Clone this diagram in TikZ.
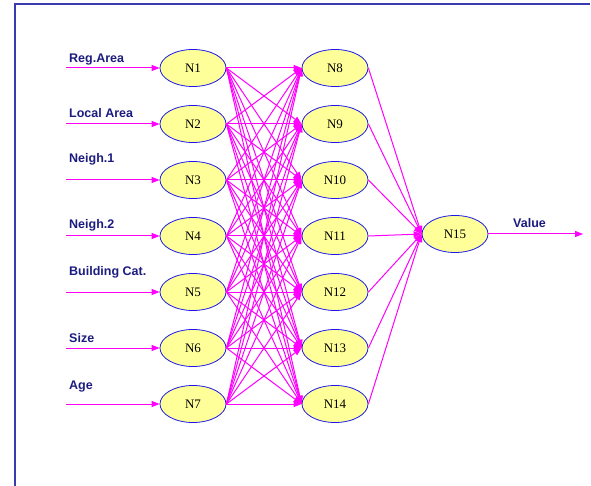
\documentclass[tikz,border=0pt]{standalone}
\usepackage{fontspec}
\setmainfont{Liberation Serif}
\newfontfamily\lblfont{Liberation Sans}
\usetikzlibrary{shapes.geometric,arrows.meta}
\definecolor{mag}{HTML}{FF00FF}
\definecolor{navy}{HTML}{1C1C80}
\definecolor{frame}{HTML}{3A3AB0}
\definecolor{fillY}{HTML}{FFFF99}
\definecolor{edgeB}{HTML}{1A1AE6}
\tikzset{
  neuron/.style={ellipse, draw=edgeB, line width=0.8pt, fill=fillY, minimum width=66pt, minimum height=37pt, inner sep=0pt, font=\fontsize{13}{15}\selectfont},
  conn/.style={draw=mag, line width=1pt, -{Triangle[length=8pt,width=6pt]}},
  lbl/.style={anchor=base west, text=navy, inner sep=0pt, font=\lblfont\bfseries\fontsize{12.5}{14}\selectfont}
}
\begin{document}
\begin{tikzpicture}[x=1pt,y=-1pt]
\useasboundingbox (0,0) rectangle (591,486);
\draw[frame, line width=1.2pt] (15,486) -- (15,4) -- (590,4);
% input layer
\foreach \i/\y in {1/68,2/124,3/180,4/236,5/292,6/348,7/404}{
  \node[neuron] (n\i) at (193,\y) {N\i};
  \coordinate (s\i) at (66,\y);
  \draw[conn] (s\i) -- (n\i);
}
% hidden layer
\foreach \j/\y in {8/68,9/124,10/180,11/236,12/292,13/348,14/404}{
  \node[neuron] (n\j) at (335,\y) {N\j};
}
\node[neuron] (n15) at (455,234) {N15};
\coordinate (out) at (583,234);
% labels
\node[lbl] (l1) at (69,63) {Reg.Area};
\node[lbl] (l2) at (69,118) {Local Area};
\node[lbl] (l3) at (69,163) {Neigh.1};
\node[lbl] (l4) at (69,229) {Neigh.2};
\node[lbl] (l5) at (69,275) {Building Cat.};
\node[lbl] (l6) at (69,342) {Size};
\node[lbl] (l7) at (69,389) {Age};
\node[lbl] (lv) at (513,228) {Value};
% connections
\foreach \i in {1,...,7}{
  \foreach \j in {8,...,14}{
    \draw[conn] (n\i.east) -- (n\j.west);
  }
}
\foreach \j in {8,...,14}{
  \draw[conn] (n\j.east) -- (n15.west);
}
\draw[conn] (n15.east) -- (out);
\end{tikzpicture}
\end{document}
